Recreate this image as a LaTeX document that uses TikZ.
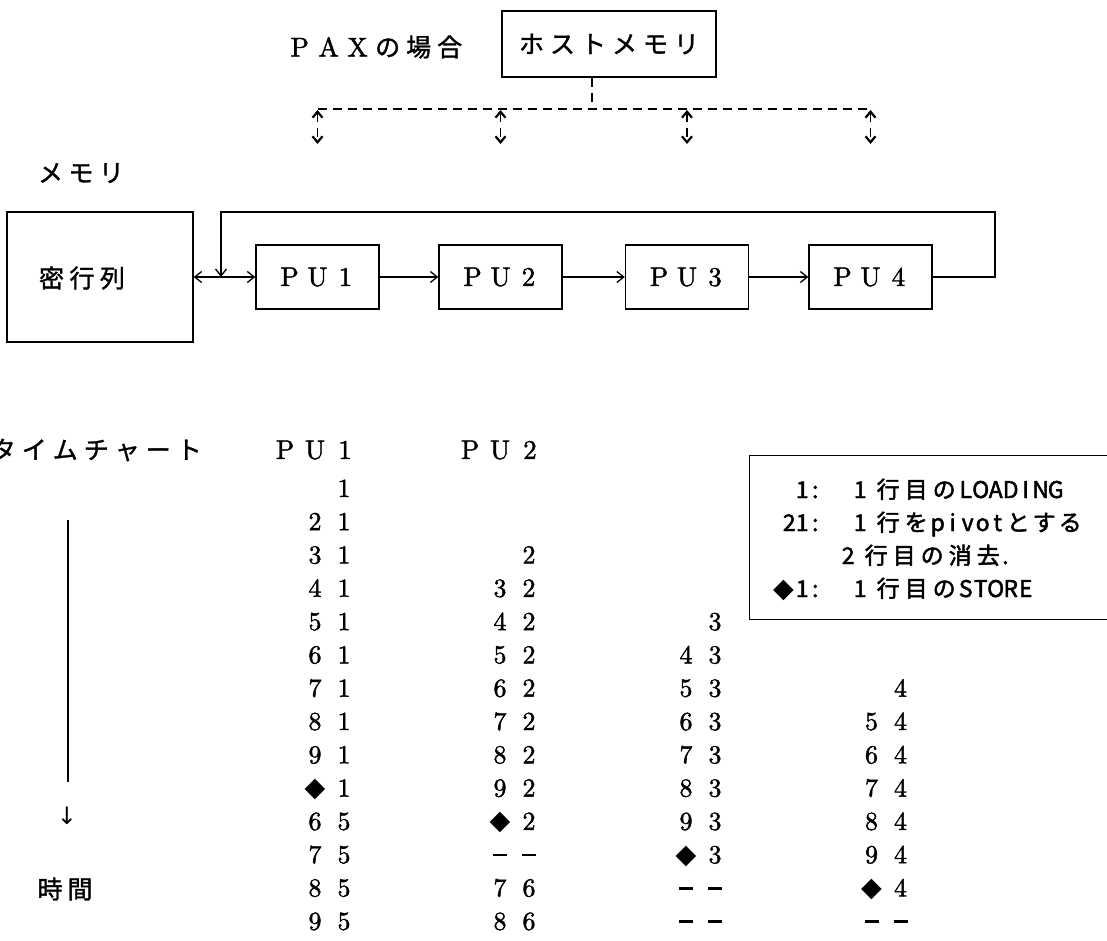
\documentclass[tikz,border=0pt]{standalone}
\usepackage{fontspec}
\usepackage{graphicx}
\usetikzlibrary{arrows.meta}
\newfontfamily\jp[FakeBold=1.3]{Noto Sans CJK JP}
\newfontfamily\jpb[FakeBold=2]{Noto Sans CJK JP}
\newfontfamily\lmb[FakeBold=1.6]{lmroman10-regular.otf}
\newfontfamily\symf{DejaVu Sans}
\newcommand\numf{\lmb\fontsize{26}{26}\selectfont}
\newcommand\puf{\lmb\fontsize{27}{27}\selectfont}
\newcommand\jpf{\jp\fontsize{25}{25}\selectfont}
\newcommand\lgf{\jpb\fontsize{23}{23}\selectfont}
\newcommand\dia{{\symf\fontsize{27}{27}\selectfont ◆}}
\newcommand\dd{\rule[7pt]{14pt}{2.6pt}}
\makeatletter
\def\spaced#1{\def\spaced@w{#1}\spaced@a}
\def\spaced@a#1{\ifx\relax#1\else\makebox[\spaced@w]{#1}\expandafter\spaced@a\fi}
\makeatother
\newcommand\twocell[2]{\makebox[29pt]{#1}\makebox[29pt]{#2}}
\begin{document}
\begin{tikzpicture}[x=1pt,y=-1pt,
  box/.style={draw,line width=1.3pt,inner sep=0pt},
  pubox/.style={box,minimum width=123pt,minimum height=64pt,font=\puf},
  ln/.style={line width=1.3pt},
  arr/.style={ln,-{Straight Barb[length=7pt,width=11pt]}},
  darr/.style={ln,{Straight Barb[length=7pt,width=11pt]}-{Straight Barb[length=7pt,width=11pt]}},
  dsh/.style={line width=1.6pt,dash pattern=on 9pt off 6pt},
  ddarr/.style={dsh,{Straight Barb[length=6pt,width=10pt,line width=2.2pt]}-{Straight Barb[length=6pt,width=10pt,line width=2.2pt]}},
  txt/.style={inner sep=0pt},
  num/.style={inner sep=0pt,font=\numf,text height=17pt,text depth=0pt},
  lgt/.style={inner sep=0pt,font=\lgf}]
\useasboundingbox (0,0) rectangle (1107,941);

% --- top part
\node[box,minimum width=214pt,minimum height=66pt,font=\jpf] (host) at (609,44) {\spaced{31pt}ホストメモリ\relax};
\node[txt,anchor=west] (pax) at (285,47) {\puf\spaced{29pt}PAX\relax\jpf\spaced{31pt}の場合\relax};
\node[txt] (mem) at (81,173) {\jpf\spaced{30.5pt}メモリ\relax};

\node[box,minimum width=186pt,minimum height=130pt] (mat) at (100,277) {};
\node[txt] (matt) at (82,278) {\jpf\spaced{30.5pt}密行列\relax};

\node[pubox] (pu1) at (317.5,277) {\spaced{28pt}PU1\relax};
\node[pubox] (pu2) at (500.5,277) {\spaced{28pt}PU2\relax};
\node[pubox] (pu3) at (687,277) {\spaced{28pt}PU3\relax};
\node[pubox] (pu4) at (870.5,277) {\spaced{28pt}PU4\relax};

\draw[arr] (pu1.east) -- (pu2.west);
\draw[arr] (pu2.east) -- (pu3.west);
\draw[arr] (pu3.east) -- (pu4.west);
\draw[darr] (mat.east) -- (pu1.west);
\coordinate (fbA) at (221,277);
\coordinate (fbR) at (995,212);
\coordinate (fbT) at (221,212);
\draw[arr,line join=miter] (pu4.east) -| (fbR) -- (fbT) -- (fbA);

% dashed host links
\coordinate (hj) at (592,109);
\coordinate (dt) at (0,110);
\coordinate (db) at (0,144);
\draw[dsh] (hj |- host.south) -- (hj);
\draw[dsh] (pu1 |- hj) -- (pu4 |- hj);
\foreach \p in {pu1,pu2,pu3,pu4}
  \draw[ddarr] (\p |- dt) -- (\p |- db);

% --- time chart
\node[txt,anchor=east] (tc) at (205,450) {\jpf\spaced{31pt}タイムチャート\relax};
\node[txt,font=\puf] (h1) at (315,450) {\spaced{30pt}PU1\relax};
\node[txt,font=\puf] (h2) at (500,450) {\spaced{30pt}PU2\relax};

\coordinate (t1) at (68,520);
\coordinate (t2) at (68,782);
\draw[ln] (t1) -- (t2);
\node[txt] (down) at (67,816) {\symf\fontsize{24}{24}\selectfont ↓};
\node[txt] (jikan) at (65,889) {\jpf\spaced{30pt}時間\relax};

\foreach \k/\a/\b in {1//1,2/2/1,3/3/1,4/4/1,5/5/1,6/6/1,7/7/1,8/8/1,9/9/1,10/\dia/1,11/6/5,12/7/5,13/8/5,14/9/5}
  \node[num] (ca\k) at (329.5,{488.4+(\k-1)*33.3}) {\twocell{\a}{\b}};
\foreach \k/\a/\b in {3//2,4/3/2,5/4/2,6/5/2,7/6/2,8/7/2,9/8/2,10/9/2,11/\dia/2,12/\dd/\dd,13/7/6,14/8/6}
  \node[num] (cb\k) at (514.5,{488.4+(\k-1)*33.3}) {\twocell{\a}{\b}};
\foreach \k/\a/\b in {5//3,6/4/3,7/5/3,8/6/3,9/7/3,10/8/3,11/9/3,12/\dia/3,13/\dd/\dd,14/\dd/\dd}
  \node[num] (cc\k) at (700.5,{488.4+(\k-1)*33.3}) {\twocell{\a}{\b}};
\foreach \k/\a/\b in {7//4,8/5/4,9/6/4,10/7/4,11/8/4,12/9/4,13/\dia/4,14/\dd/\dd}
  \node[num] (cd\k) at (886,{488.4+(\k-1)*33.3}) {\twocell{\a}{\b}};

% --- legend
\node[draw,line width=1.3pt,anchor=north west,minimum width=370pt,minimum height=164pt,inner sep=0pt] (lg) at (749,455) {};
\node[lgt,anchor=base east] (lp1) at (822,498) {\spaced{13pt}1:\relax};
\node[lgt,anchor=base west] (lr1) at (846,498) {\spaced{28pt}1行目の\relax\spaced{15pt}LOADING\relax};
\node[lgt,anchor=base east] (lp2) at (822,531) {\spaced{13pt}21:\relax};
\node[lgt,anchor=base west] (lr2) at (846,531) {\spaced{28pt}1行を\relax\spaced{15pt}pivot\relax\spaced{26pt}とする\relax};
\node[lgt,anchor=base west] (lr3) at (834,564) {\spaced{28pt}2行目の消去\relax.};
\node[lgt,anchor=base east] (lp4) at (822,597) {\dia\hspace{2pt}\spaced{13pt}1:\relax};
\node[lgt,anchor=base west] (lr4) at (846,597) {\spaced{28pt}1行目の\relax\spaced{15pt}STORE\relax};
\end{tikzpicture}
\end{document}
